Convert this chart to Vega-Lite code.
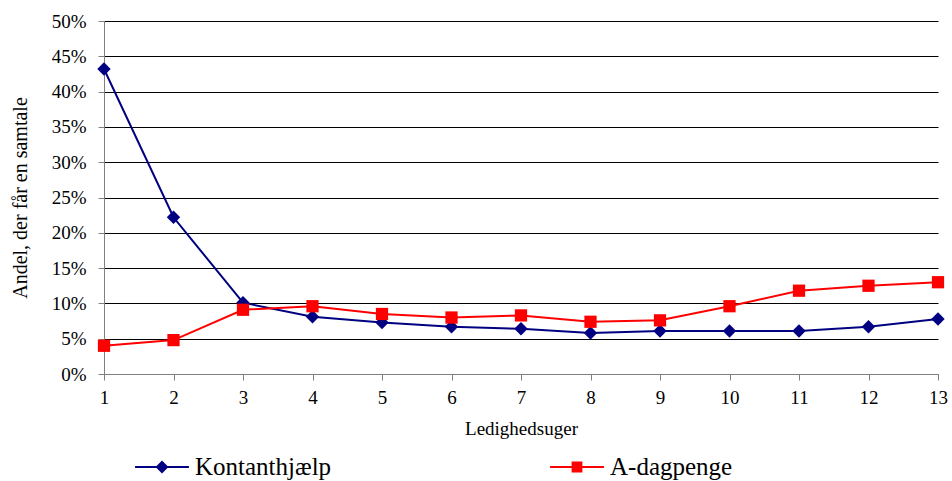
{
  "$schema": "https://vega.github.io/schema/vega-lite/v6.json",
  "autosize": "none",
  "width": 834,
  "height": 353,
  "padding": {"left": 104, "top": 21, "right": 14, "bottom": 107},
  "background": "white",
  "config": {
    "font": "Liberation Serif",
    "view": {"stroke": null},
    "axis": {"labelFont": "Liberation Serif", "titleFont": "Liberation Serif", "labelColor": "black", "titleColor": "black", "titleFontWeight": "normal"},
    "legend": {"labelFont": "Liberation Serif", "titleFont": "Liberation Serif"}
  },
  "data": {
    "values": [
      {"uge": 1, "serie": "Kontanthjælp", "andel": 0.432},
      {"uge": 2, "serie": "Kontanthjælp", "andel": 0.222},
      {"uge": 3, "serie": "Kontanthjælp", "andel": 0.101},
      {"uge": 4, "serie": "Kontanthjælp", "andel": 0.081},
      {"uge": 5, "serie": "Kontanthjælp", "andel": 0.073},
      {"uge": 6, "serie": "Kontanthjælp", "andel": 0.067},
      {"uge": 7, "serie": "Kontanthjælp", "andel": 0.064},
      {"uge": 8, "serie": "Kontanthjælp", "andel": 0.058},
      {"uge": 9, "serie": "Kontanthjælp", "andel": 0.061},
      {"uge": 10, "serie": "Kontanthjælp", "andel": 0.061},
      {"uge": 11, "serie": "Kontanthjælp", "andel": 0.061},
      {"uge": 12, "serie": "Kontanthjælp", "andel": 0.067},
      {"uge": 13, "serie": "Kontanthjælp", "andel": 0.078},
      {"uge": 1, "serie": "A-dagpenge", "andel": 0.040},
      {"uge": 2, "serie": "A-dagpenge", "andel": 0.048},
      {"uge": 3, "serie": "A-dagpenge", "andel": 0.091},
      {"uge": 4, "serie": "A-dagpenge", "andel": 0.096},
      {"uge": 5, "serie": "A-dagpenge", "andel": 0.085},
      {"uge": 6, "serie": "A-dagpenge", "andel": 0.080},
      {"uge": 7, "serie": "A-dagpenge", "andel": 0.083},
      {"uge": 8, "serie": "A-dagpenge", "andel": 0.074},
      {"uge": 9, "serie": "A-dagpenge", "andel": 0.076},
      {"uge": 10, "serie": "A-dagpenge", "andel": 0.096},
      {"uge": 11, "serie": "A-dagpenge", "andel": 0.118},
      {"uge": 12, "serie": "A-dagpenge", "andel": 0.125},
      {"uge": 13, "serie": "A-dagpenge", "andel": 0.130}
    ]
  },
  "encoding": {
    "x": {
      "field": "uge", "type": "quantitative",
      "scale": {"domain": [1, 13], "nice": false, "zero": false},
      "axis": {
        "title": "Ledighedsuger", "titleFontSize": 19, "titlePadding": 12,
        "values": [1,2,3,4,5,6,7,8,9,10,11,12,13], "format": "d",
        "labelFontSize": 19, "labelPadding": 8, "tickSize": 6,
        "grid": false, "domainColor": "#808080", "tickColor": "#808080", "labelFlush": false
      }
    },
    "y": {
      "field": "andel", "type": "quantitative",
      "scale": {"domain": [0, 0.5], "nice": false},
      "axis": {
        "title": "Andel, der får en samtale", "titleFontSize": 20, "titlePadding": 21,
        "values": [0,0.05,0.1,0.15,0.2,0.25,0.3,0.35,0.4,0.45,0.5], "format": ".0%",
        "labelFontSize": 19, "labelPadding": 12, "tickSize": 6,
        "grid": true, "gridColor": "black", "gridOpacity": 1, "gridWidth": 1,
        "domainColor": "#808080", "tickColor": "#808080"
      }
    }
  },
  "layer": [
    {
      "mark": {"type": "line", "strokeWidth": 2},
      "encoding": {
        "color": {
          "field": "serie", "type": "nominal",
          "scale": {"domain": ["Kontanthjælp", "A-dagpenge"], "range": ["#000080", "#ff0000"]},
          "legend": {
            "title": null, "orient": "none", "direction": "horizontal",
            "legendX": 31, "legendY": 419,
            "labelFontSize": 25, "labelColor": "black",
            "symbolSize": 2900, "labelOffset": 6, "columnPadding": 218,
            "encode": {
              "symbols": {
                "update": {
                  "shape": {"signal": "datum.value === 'Kontanthjælp' ? 'M-1,-0.035L1,-0.035L1,0.035L-1,0.035ZM0,-0.24L0.24,0L0,0.24L-0.24,0Z' : 'M-1,-0.035L1,-0.035L1,0.035L-1,0.035ZM-0.2,-0.2L0.2,-0.2L0.2,0.2L-0.2,0.2Z'"},
                  "fill": {"signal": "datum.value === 'Kontanthjælp' ? '#000080' : '#ff0000'"},
                  "fillOpacity": {"value": 1},
                  "stroke": {"value": "transparent"},
                  "strokeWidth": {"value": 0},
                  "opacity": {"value": 1}
                }
              }
            }
          }
        }
      }
    },
    {
      "transform": [{"filter": "datum.serie === 'Kontanthjælp'"}],
      "mark": {"type": "point", "filled": true, "opacity": 1, "shape": "diamond", "size": 180, "color": "#000080"}
    },
    {
      "transform": [{"filter": "datum.serie === 'A-dagpenge'"}],
      "mark": {"type": "point", "filled": true, "opacity": 1, "shape": "square", "size": 150, "color": "#ff0000"}
    }
  ]
}
